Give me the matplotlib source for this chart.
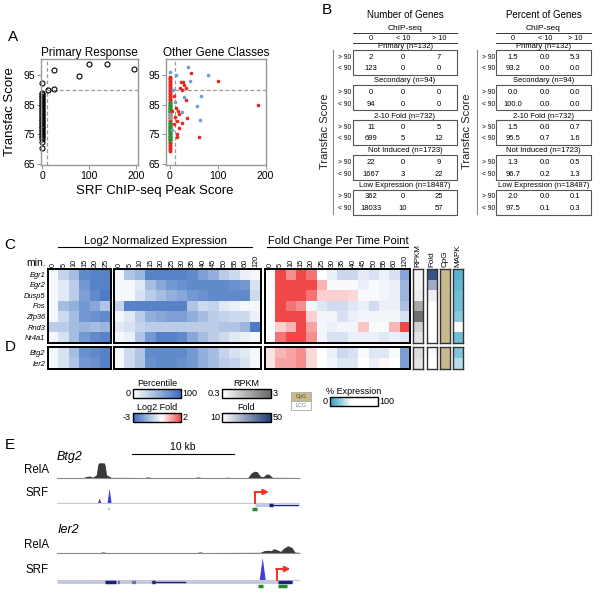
import numpy as np
import matplotlib.pyplot as plt
from matplotlib.colors import LinearSegmentedColormap, Normalize, LogNorm
from matplotlib.patches import Rectangle
from matplotlib.colorbar import ColorbarBase

plt.rcParams['font.family'] = ['Liberation Sans', 'DejaVu Sans']

# ---------------- data: panel A ----------------
primary_zero_y = [70.5, 72.5, 73.5, 74, 74.5, 75, 75.5, 76, 76.5, 77, 77.5, 78, 78.5, 79,
                  79.5, 80, 80.5, 81, 81.5, 82, 82.5, 83, 83.5, 84, 84.5, 85, 85.5, 86,
                  86.5, 87, 87.5, 88, 88.5, 89, 92.2]
primary_x = [11, 25, 25, 78, 99, 138, 196]
primary_y = [90.1, 96.7, 90.2, 94.7, 98.6, 98.6, 96.9]

red_zero_y = [69.5, 70, 70.5, 71, 71.5, 72, 72.5, 73, 73.5, 74, 74.5, 75, 75.5, 76, 76.5,
              77, 77.5, 78, 78.5, 79, 79.5, 80, 80.5, 81, 81.5, 82, 82.5, 83, 83.5, 84,
              84.5, 85, 85.5, 86, 86.5, 87, 87.5, 88, 88.5, 89, 89.5, 90, 90.5, 91, 91.5,
              92, 92.5, 93, 93.5, 94, 94.5]
green_zero_y = [73, 73.5, 74, 74.5, 75, 75.5, 76, 76.5, 77, 77.5, 78, 78.5, 79, 82.5, 83,
                83.5, 84, 84.5, 85, 85.5]
grey_zero_y = [80.5, 81, 81.5, 82]
blue_x = [0, 38, 42, 79, 30, 66, 57, 26, 64, 13, 6, 4, 10]
blue_y = [96, 97.7, 93, 95, 87.6, 88, 84.6, 82.5, 80, 95, 90, 76.5, 86]
red_x = [45, 23, 100, 30, 34, 22, 25, 34, 185, 36, 19, 15, 16, 60, 8, 12, 18, 20, 10, 14,
         8, 25, 5, 28]
red_y = [95.7, 92.6, 93, 91.5, 90.5, 90.5, 90, 86.6, 85, 80.5, 77, 75, 74, 74, 88, 84, 83,
         82, 81, 79.5, 78.5, 79, 83, 92.5]
class_legend = ['2-10 fold', 'Not Induced', 'Secondary', 'Low Expression']

# ---------------- data: panel B ----------------
classes = ['Primary', 'Secondary', '2-10 Fold', 'Not Induced', 'Low Expression']
class_n = [132, 94, 732, 1723, 18487]
chip_bins = ['0', '< 10', '> 10']
score_bins = ['> 90', '< 90']
count_hi = [[2, 0, 7], [0, 0, 0], [11, 0, 5], [22, 0, 9], [362, 0, 25]]
count_lo = [[123, 0, 0], [94, 0, 0], [699, 5, 12], [1667, 3, 22], [18033, 10, 57]]
pct_hi = [[1.5, 0.0, 5.3], [0.0, 0.0, 0.0], [1.5, 0.0, 0.7], [1.3, 0.0, 0.5], [2.0, 0.0, 0.1]]
pct_lo = [[93.2, 0.0, 0.0], [100.0, 0.0, 0.0], [95.5, 0.7, 1.6], [96.7, 0.2, 1.3],
          [97.5, 0.1, 0.3]]

# ---------------- data: panels C/D ----------------
genes_c = ['Egr1', 'Egr2', 'Dusp5', 'Fos', 'Zfp36', 'Rnd3', 'Nr4a1']
genes_d = ['Btg2', 'Ier2']
times_early = ['0', '5', '10', '15', '20', '25']
times = ['0', '5', '10', '15', '20', '25', '30', '35', '40', '45', '50', '55', '60', '120']
side_cols = ['RPKM', 'Fold', 'CpG', 'MAPK']

expr_early_c = [[5, 30, 45, 80, 85, 85],
                [5, 15, 35, 70, 85, 85],
                [5, 15, 35, 65, 80, 90],
                [5, 45, 55, 70, 60, 40],
                [5, 25, 45, 70, 75, 80],
                [35, 35, 45, 50, 45, 50],
                [5, 20, 45, 70, 80, 85]]
expr_early_d = [[5, 20, 45, 75, 80, 85],
                [5, 20, 40, 70, 75, 85]]
expr_time_c = [[5, 40, 50, 85, 85, 85, 85, 80, 65, 55, 35, 25, 10, 5],
               [5, 5, 15, 45, 60, 70, 75, 80, 80, 80, 80, 75, 70, 20],
               [5, 5, 20, 35, 45, 55, 60, 70, 75, 80, 80, 80, 80, 25],
               [30, 85, 85, 85, 85, 85, 85, 40, 25, 30, 15, 10, 5, 5],
               [5, 15, 35, 55, 60, 65, 65, 55, 45, 35, 30, 25, 25, 10],
               [15, 20, 30, 35, 35, 35, 35, 35, 35, 35, 40, 40, 50, 90],
               [5, 10, 40, 70, 85, 85, 80, 60, 45, 35, 25, 15, 10, 5]]
expr_time_d = [[5, 25, 40, 80, 80, 80, 80, 70, 55, 45, 30, 20, 15, 5],
               [5, 25, 40, 75, 80, 80, 75, 70, 55, 45, 35, 30, 20, 5]]
fold_c = [[0, 2, 1.2, 2, 1.5, 0, -0.3, -0.8, -0.8, -0.4, -0.6, -0.3, -0.6, -1.8],
          [0, 2, 2, 2, 2, 0.8, -0.1, -0.1, -0.1, -0.3, -0.1, -0.2, -0.3, -1.5],
          [0, 2, 2, 2, 1.5, 0.5, 0.5, 0.5, 0.4, -0.1, -0.1, -0.2, -0.3, -1.5],
          [0, 2, 1.5, 1.2, -0.2, -0.5, -0.7, -0.7, -0.5, -0.3, -0.7, -0.3, -0.3, -1.3],
          [0, 2, 2, 2, 0.5, -0.2, -0.2, -0.6, -0.3, -0.2, -0.2, -0.2, -0.2, -0.6],
          [0, 0.5, 0.8, 2, 1, -0.2, -0.3, -0.2, -0.2, 0.6, -0.1, -0.1, 0.8, 2],
          [0, 1.5, 2, 2, 1.2, -0.2, -0.6, -0.6, -0.3, -0.3, -0.3, -0.5, -0.3, -0.5]]
fold_d = [[0.3, 0.8, 1.0, 1.2, 0.4, 0, -0.3, -0.8, -0.6, -0.1, -0.5, -0.5, -0.1, -2],
          [0.3, 1.0, 1.0, 1.2, 0.4, 0, -0.2, -0.5, -0.5, 0, -0.3, 0.1, 0, -2]]
rpkm_c = [0.35, 0.35, 0.4, 1.1, 2.6, 0.6, 0.45]
rpkm_d = [0.5, 0.45]
maxfold_c = [45, 27, 13, 10, 10, 10, 10]
maxfold_d = [11, 10]
mapk_c = [10, 12, 15, 15, 20, 100, 15]
mapk_d = [18, 30]

# ---------------- data: panel E (positions in kb, heights relative) ----------------
btg2_rela_x = [0, 2.6, 2.9, 3.2, 3.5, 3.85, 4.0, 4.1, 4.6, 4.7, 4.85, 5.3, 8.6, 8.9, 9.2,
               13.5, 13.8, 14.1, 16.4, 16.7, 17.0, 18.7, 19.0, 19.3, 19.6, 19.9, 20.2,
               20.5, 20.8, 21.1, 23.8]
btg2_rela_y = [0.03, 0.03, 0.1, 0.12, 0.05, 0.2, 0.85, 0.95, 0.95, 0.85, 0.2, 0.04, 0.03,
               0.07, 0.03, 0.03, 0.07, 0.03, 0.03, 0.05, 0.03, 0.03, 0.3, 0.42, 0.4, 0.12,
               0.08, 0.25, 0.22, 0.04, 0.03]
btg2_srf_x = [0, 3.95, 4.15, 4.3, 4.9, 5.1, 5.3, 23.8]
btg2_srf_y = [0, 0, 0.31, 0, 0, 0.94, 0, 0]
btg2_tss = 19.4
btg2_utr = [19.4, 20.8]
btg2_exons = [(20.8, 21.2)]
btg2_cds_line = [21.2, 23.6]
btg2_cpg = [(19.1, 19.6)]
btg2_srf_site = 5.1

ier2_rela_x = [0, 4.2, 4.5, 4.8, 13.7, 14.0, 14.3, 19.9, 20.3, 20.7, 21.0, 21.2, 21.5,
               21.9, 22.2, 22.6, 23.0, 23.3, 23.8]
ier2_rela_y = [0.03, 0.03, 0.07, 0.03, 0.03, 0.07, 0.03, 0.04, 0.15, 0.17, 0.15, 0.27,
               0.22, 0.1, 0.3, 0.45, 0.35, 0.06, 0.03]
ier2_srf_x = [0, 19.8, 20.1, 20.4, 23.8]
ier2_srf_y = [0, 0, 1.4, 0, 0]
ier2_tss = 21.5
ier2_utr = [0, 23.1]
ier2_exons = [(4.7, 5.8), (5.95, 6.1), (7.3, 7.4), (7.55, 7.65), (9.3, 9.55), (21.6, 23.0)]
ier2_cds_line = [9.3, 12.5]
ier2_cpg = [(19.7, 20.2), (21.6, 22.5)]

# ---------------- figure ----------------
W, H = 600, 592
fig = plt.figure(figsize=(6, 5.92), dpi=100)


def px_axes(x0, y0, x1, y1):
    return fig.add_axes([x0 / W, 1 - y1 / H, (x1 - x0) / W, (y1 - y0) / H])


ov = px_axes(0, 0, W, H)
ov.set_xlim(0, W)
ov.set_ylim(H, 0)
ov.axis('off')

for lab, x, y in [('A', 13, 37), ('B', 327, 10), ('C', 10, 245), ('D', 10, 347), ('E', 10, 445)]:
    ov.text(x, y, lab, fontsize=11, ha='center', va='center')

# ---- panel A ----
RED, BLUE, GREEN, GREY = '#e8261d', '#6b9fd2', '#1d9a2c', '#9a9a9a'


def style_scatter_axes(ax, xlim):
    ax.set_xlim(*xlim)
    ax.set_ylim(64.7, 100.4)
    ax.set_xticks([0, 100, 200])
    ax.set_yticks([65, 75, 85, 95])
    ax.tick_params(direction='out', length=3, color='#999999', labelsize=7.5, pad=1.5)
    for s in ax.spines.values():
        s.set_color('#999999')
        s.set_linewidth(1)
    ax.axvline(10, color='#999999', ls='--', lw=0.9, dashes=(3, 2))
    ax.plot([10, 210], [90, 90], color='#999999', ls='--', lw=0.9, dashes=(3, 2))


axp = px_axes(41, 59, 138, 165)
style_scatter_axes(axp, (-3, 205))
axp.plot([0] * len(primary_zero_y), primary_zero_y, 'o', mfc='none', mec='black', ms=3.6,
         mew=0.8, clip_on=False)
axp.plot(primary_x, primary_y, 'o', mfc='none', mec='black', ms=3.6, mew=0.8)
axp.set_title('Primary Response', fontsize=8.5, pad=2)

axo = px_axes(166, 59, 266, 165)
style_scatter_axes(axo, (-8, 201))
axo.plot([0] * len(red_zero_y), red_zero_y, 'o', color=RED, ms=2.8, mew=0)
axo.plot([0] * len(green_zero_y), green_zero_y, 'o', color=GREEN, ms=2.8, mew=0)
axo.plot([0] * len(grey_zero_y), grey_zero_y, 'o', color=GREY, ms=2.8, mew=0)
axo.plot(red_x, red_y, 'o', color=RED, ms=2.6, mew=0)
axo.plot(blue_x, blue_y, 'o', color=BLUE, ms=2.6, mew=0)
axo.set_title('Other Gene Classes', fontsize=8.5, pad=2)

for i, (lab, col) in enumerate(zip(class_legend, [BLUE, RED, GREEN, GREY])):
    y = 133.5 + i * 7.8
    ov.plot(205, y - 0.5, 's', color=col, ms=2.2, mew=0)
    ov.text(208, y, lab, fontsize=5.8, va='center', ha='left')

ov.text(10, 112, 'Transfac Score', rotation=90, fontsize=9.5, ha='center', va='center')
ov.text(155, 191, 'SRF ChIP-seq Peak Score', fontsize=9.5, ha='center', va='center')

# ---- panel B ----
box_tops = [50, 85, 120, 155, 189.5]


def draw_table(title, hi, lo, fmt, bx0, bx1, cols, lab_x, vline_x, vlab_x):
    cx = (bx0 + bx1) / 2
    ov.text(cx, 14.5, title, ha='center', va='center', fontsize=7)
    ov.text(cx, 28.5, 'ChIP-seq', ha='center', va='center', fontsize=6)
    ov.plot([bx0, bx1], [33, 33], color='#333333', lw=0.7)
    for c, lab in zip(cols, chip_bins):
        ov.text(c, 38, lab, ha='center', va='center', fontsize=5.2)
    ov.plot([bx0, bx1], [42.5, 42.5], color='#333333', lw=0.7)
    for i, top in enumerate(box_tops):
        ov.text(cx, top - 4, f'{classes[i]} (n={class_n[i]})', ha='center', va='center',
                fontsize=5.5)
        ov.add_patch(Rectangle((bx0, top), bx1 - bx0, 25, fill=False, ec='#555555', lw=0.8))
        for row, vals, yoff in ((0, hi[i], 7.5), (1, lo[i], 19)):
            ov.text(lab_x, top + yoff, score_bins[row], ha='right', va='center', fontsize=4.8)
            for c, v in zip(cols, vals):
                ov.text(c, top + yoff, fmt(v), ha='center', va='center', fontsize=5.5)
    ov.plot([vline_x, vline_x], [50, 214], color='#888888', lw=0.8)
    ov.text(vlab_x, 131, 'Transfac Score', rotation=90, ha='center', va='center', fontsize=8,
            color='#222222')


draw_table('Number of Genes', count_hi, count_lo, lambda v: f'{v}', 353, 457,
           [371, 403, 439], 351.5, 333, 325)
draw_table('Percent of Genes', pct_hi, pct_lo, lambda v: f'{v:.1f}', 496, 591,
           [513, 545, 575], 495, 477, 467)

# ---- panels C/D heatmaps ----
cm_pct = LinearSegmentedColormap.from_list('pct', ['#ffffff', '#3a6dbf'])
cm_fc = LinearSegmentedColormap.from_list('fc', [(0, '#3a6dbf'), (0.6, '#ffffff'),
                                                 (1, '#f04848')])
cm_rpkm = LinearSegmentedColormap.from_list('rpkm', ['#ffffff', '#666666'])
cm_fold = LinearSegmentedColormap.from_list('fold', ['#ffffff', '#1c3b78'])
cm_mapk = LinearSegmentedColormap.from_list('mapk', [(0, '#2a9fc4'), (0.45, '#ffffff'),
                                                     (1, '#ffffff')])
cm_cpg = LinearSegmentedColormap.from_list('cpg', ['#c9b98f', '#c9b98f'])
n_pct = Normalize(0, 100)
n_fc = Normalize(-3, 2)
n_rpkm = LogNorm(0.3, 3)
n_fold = Normalize(10, 50)
n_mapk = Normalize(0, 100)


def heat(x0, x1, y0, y1, data, cmap, norm, lw=1.4, ec='black'):
    ax = px_axes(x0, y0, x1, y1)
    ax.imshow(np.array(data, dtype=float), cmap=cmap, norm=norm, aspect='auto',
              interpolation='nearest')
    ax.set_xticks([])
    ax.set_yticks([])
    for s in ax.spines.values():
        s.set_linewidth(lw)
        s.set_color(ec)
    return ax


def top_labels(ax, labels, size=5.2):
    ax.set_xticks(range(len(labels)))
    ax.set_xticklabels(labels, rotation=90, fontsize=size)
    ax.xaxis.set_ticks_position('top')
    ax.tick_params(axis='x', length=0, pad=1.5)


blocks_x = [(48, 111), (114, 261), (265, 410)]
side_x = [(413, 423), (427, 437), (440, 450), (453, 463)]
rows = [(269, 343, expr_early_c, expr_time_c, fold_c, rpkm_c, maxfold_c, mapk_c, genes_c),
        (347, 369, expr_early_d, expr_time_d, fold_d, rpkm_d, maxfold_d, mapk_d, genes_d)]
for k, (y0, y1, e1, e2, fc, rp, mf, mk, gn) in enumerate(rows):
    a1 = heat(*blocks_x[0], y0, y1, e1, cm_pct, n_pct)
    a2 = heat(*blocks_x[1], y0, y1, e2, cm_pct, n_pct)
    a3 = heat(*blocks_x[2], y0, y1, fc, cm_fc, n_fc)
    a1.set_yticks(range(len(gn)))
    a1.set_yticklabels(gn, fontsize=5.4, style='italic')
    a1.tick_params(axis='y', length=0, pad=2)
    if k == 0:
        top_labels(a1, times_early)
        top_labels(a2, times)
        top_labels(a3, times)
    side_data = [[[v] for v in rp], [[v] for v in mf], [[1] for _ in gn], [[v] for v in mk]]
    side_maps = [(cm_rpkm, n_rpkm), (cm_fold, n_fold), (cm_cpg, Normalize(0, 1)),
                 (cm_mapk, n_mapk)]
    for (sx0, sx1), dat, (cm, nm), lab in zip(side_x, side_data, side_maps, side_cols):
        a = heat(sx0, sx1, y0, y1, dat, cm, nm, lw=1.0, ec='#333333')
        if k == 0:
            top_labels(a, [lab], size=5.8)

ov.text(46, 263.5, 'min.', fontsize=7.5, ha='right', va='center')
ov.text(155, 240.5, 'Log2 Normalized Expression', fontsize=8, ha='center', va='center')
ov.plot([58, 252], [247, 247], color='black', lw=0.8)
ov.text(338, 240.5, 'Fold Change Per Time Point', fontsize=8, ha='center', va='center')
ov.plot([267, 408], [247, 247], color='black', lw=0.8)

# ---- legends ----


def cbar(x0, x1, y0, y1, cmap, norm, lo, hi, title, lo_gap=2):
    ax = px_axes(x0, y0, x1, y1)
    cb = ColorbarBase(ax, cmap=cmap, norm=norm, orientation='horizontal')
    cb.set_ticks([])
    cb.ax.minorticks_off()
    cb.outline.set_linewidth(1.0)
    ov.text(x0 - lo_gap, (y0 + y1) / 2, lo, fontsize=6.5, ha='right', va='center')
    ov.text(x1 + 1.5, (y0 + y1) / 2, hi, fontsize=6.5, ha='left', va='center')
    ov.text((x0 + x1) / 2, y0 - 6, title, fontsize=6.5, ha='center', va='center')


cbar(133, 181, 389, 397.5, cm_pct, n_pct, '0', '100', 'Percentile')
cbar(133, 181, 413, 421.5, cm_fc, n_fc, '-3', '2', 'Log2 Fold')
cbar(222, 271, 389, 397.5, cm_rpkm, n_rpkm, '0.3', '3', 'RPKM')
cbar(222, 271, 413, 421.5, cm_fold, n_fold, '10', '50', 'Fold')
cbar(330, 378, 397, 406, cm_mapk, n_mapk, '0', '100', '% Expression')
ov.add_patch(Rectangle((291, 392), 20, 9, fc='#c9b98f', ec='#aaaaaa', lw=0.6))
ov.add_patch(Rectangle((291, 401), 20, 9, fc='white', ec='#aaaaaa', lw=0.6))
ov.text(301, 396.5, 'CpG', fontsize=4, ha='center', va='center', color='#5a4a20')
ov.text(301, 405.5, 'LCG', fontsize=4, ha='center', va='center', color='#777777')

# ---- panel E tracks ----
TRACK_H = 16


def gene_panel(y_top, y_bot, name, rela_base, srf_base, gene_y, cpg_y, rela_x, rela_y,
               srf_x, srf_y, tss, utr, exons, cds_line, cpg, srf_site=None):
    ax = px_axes(57, y_top, 300, y_bot)
    ax.set_xlim(0, 23.8)
    ax.set_ylim(y_bot, y_top)
    ax.axis('off')
    ry = [rela_base - v * TRACK_H for v in rela_y]
    ax.fill_between(rela_x, rela_base, ry, color='#3a3a3a', lw=0)
    ax.plot([0, 23.8], [rela_base, rela_base], color='#888888', lw=0.8)
    sy = [srf_base - v * TRACK_H for v in srf_y]
    ax.fill_between(srf_x, srf_base, sy, color='#3c3cd8', lw=0)
    ax.plot([0, 23.8], [srf_base, srf_base], color='#c8c8d0', lw=0.8)
    ax.plot(utr, [gene_y, gene_y], color='#b8c0dc', lw=1.8, solid_capstyle='butt')
    ax.plot(cds_line, [gene_y, gene_y], color='#1a237e', lw=1.0)
    for e0, e1 in exons:
        ax.plot([e0, e1], [gene_y, gene_y], color='#1a237e', lw=2.5, solid_capstyle='butt')
    for c0, c1 in cpg:
        ax.plot([c0, c1], [cpg_y, cpg_y], color='#1f8a2a', lw=2.5, solid_capstyle='butt')
    if srf_site is not None:
        ax.plot(srf_site, cpg_y, 's', color='#90e080', ms=2, mew=0)
    ax.plot([tss, tss], [srf_base, srf_base - 11], color='#ee3322', lw=1.4)
    ax.annotate('', xy=(tss + 1.35, srf_base - 11), xytext=(tss - 0.05, srf_base - 11),
                arrowprops=dict(arrowstyle='-|>', color='#ee3322', lw=1.4,
                                mutation_scale=8, shrinkA=0, shrinkB=0))
    ov.text(57, y_top + 2, name, fontsize=9, style='italic', ha='left', va='center')
    ov.text(49, rela_base - 8, 'RelA', fontsize=8.3, ha='right', va='center')
    ov.text(49, srf_base - 10, 'SRF', fontsize=8.3, ha='right', va='center')


gene_panel(455, 513, 'Btg2', 478, 503, 504.5, 508.5, btg2_rela_x, btg2_rela_y,
           btg2_srf_x, btg2_srf_y, btg2_tss, btg2_utr, btg2_exons, btg2_cds_line,
           btg2_cpg, btg2_srf_site)
gene_panel(528, 592, 'Ier2', 553, 580, 582, 586, ier2_rela_x, ier2_rela_y,
           ier2_srf_x, ier2_srf_y, ier2_tss, ier2_utr, ier2_exons, ier2_cds_line,
           ier2_cpg)

ov.plot([132, 234], [454, 454], color='black', lw=0.8)
ov.text(183, 446.5, '10 kb', fontsize=7.5, ha='center', va='center')

fig.savefig('out.png', dpi=100)
